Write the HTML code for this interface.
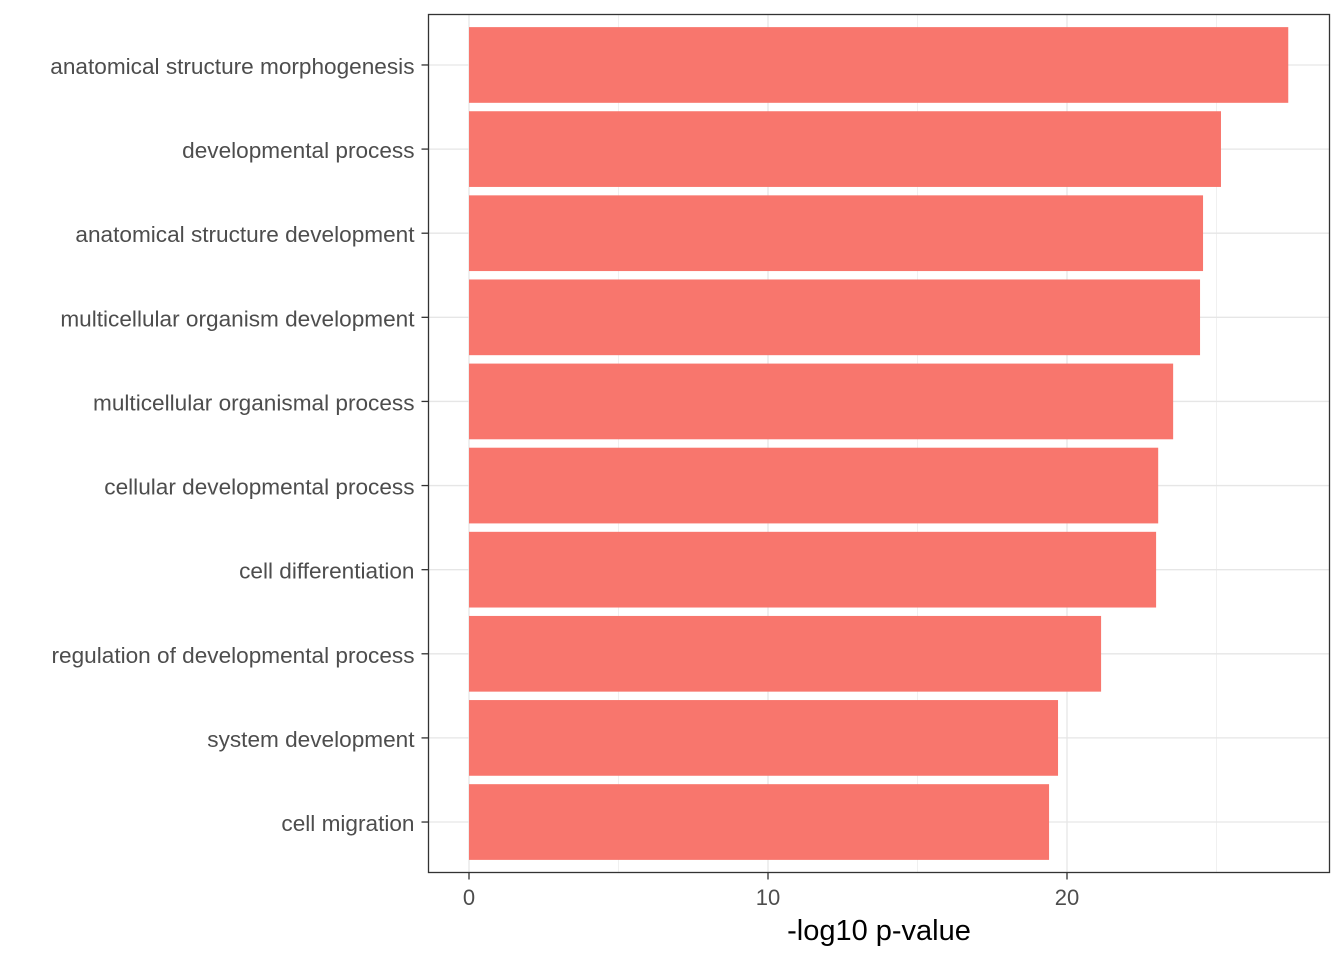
<!DOCTYPE html>
<html><head><meta charset="utf-8"><style>
html,body{margin:0;padding:0;background:#fff;}
svg{display:block;font-family:"Liberation Sans",Arial,sans-serif;}
</style></head><body>
<svg id="chart" width="1344" height="960" xmlns="http://www.w3.org/2000/svg"></svg>
<script>
const categories = ["anatomical structure morphogenesis","developmental process","anatomical structure development","multicellular organism development","multicellular organismal process","cellular developmental process","cell differentiation","regulation of developmental process","system development","cell migration"];
const values = [27.4, 25.15, 24.55, 24.45, 23.55, 23.05, 22.98, 21.14, 19.7, 19.4];
const xTicks = [0, 10, 20];
const xMinor = [5, 15, 25];

const svg = document.getElementById('chart');
const NS = 'http://www.w3.org/2000/svg';
const P = {l:428.5, r:1329.5, t:14.5, b:872.5};
const x0 = 469, pxPerUnit = 29.9;
const xs = v => x0 + v * pxPerUnit;
const n = categories.length;
const step = (P.b - P.t) / (n - 1 + 1.2);
const yc = i => P.t + step * (0.6 + i);
function mk(tag, attrs){ const e=document.createElementNS(NS,tag); for(const k in attrs) e.setAttribute(k,attrs[k]); svg.appendChild(e); return e; }

xMinor.forEach(v=>{ const g=mk('line',{x1:xs(v),x2:xs(v),y1:P.t,y2:P.b,stroke:'#f0f0f0','stroke-width':1});

 });
xTicks.forEach(v=>{ const g=mk('line',{x1:xs(v),x2:xs(v),y1:P.t,y2:P.b,stroke:'#e6e6e6','stroke-width':1.3});

 });
categories.forEach((c,i)=>{ const g=mk('line',{x1:P.l,x2:P.r,y1:yc(i),y2:yc(i),stroke:'#e6e6e6','stroke-width':1.3});

 });

const bh = step * 0.9;
categories.forEach((c,i)=>{
  const r=mk('rect',{x:xs(0),y:yc(i)-bh/2,width:xs(values[i])-xs(0),height:bh,fill:'#F8766D'});
  
  
  const t=mk('line',{x1:P.l-7,x2:P.l,y1:yc(i),y2:yc(i),stroke:'#333','stroke-width':1.3});
  
  
  const l=mk('text',{x:P.l-14,y:yc(i)+9,'text-anchor':'end','font-size':22.6,fill:'#4d4d4d'});
  l.textContent=c;
  
  
});

const b=mk('rect',{x:P.l,y:P.t,width:P.r-P.l,height:P.b-P.t,fill:'none',stroke:'#333','stroke-width':1.3});



xTicks.forEach(v=>{
  const t=mk('line',{x1:xs(v),x2:xs(v),y1:P.b,y2:P.b+7,stroke:'#333','stroke-width':1.3});
  
  
  const l=mk('text',{x:xs(v),y:905,'text-anchor':'middle','font-size':22,fill:'#4d4d4d'});
  l.textContent=v;
  
  
});
const xt=mk('text',{x:(P.l+P.r)/2,y:940,'text-anchor':'middle','font-size':29,fill:'#000'});
xt.textContent='-log10 p-value';


</script>
</body></html>
